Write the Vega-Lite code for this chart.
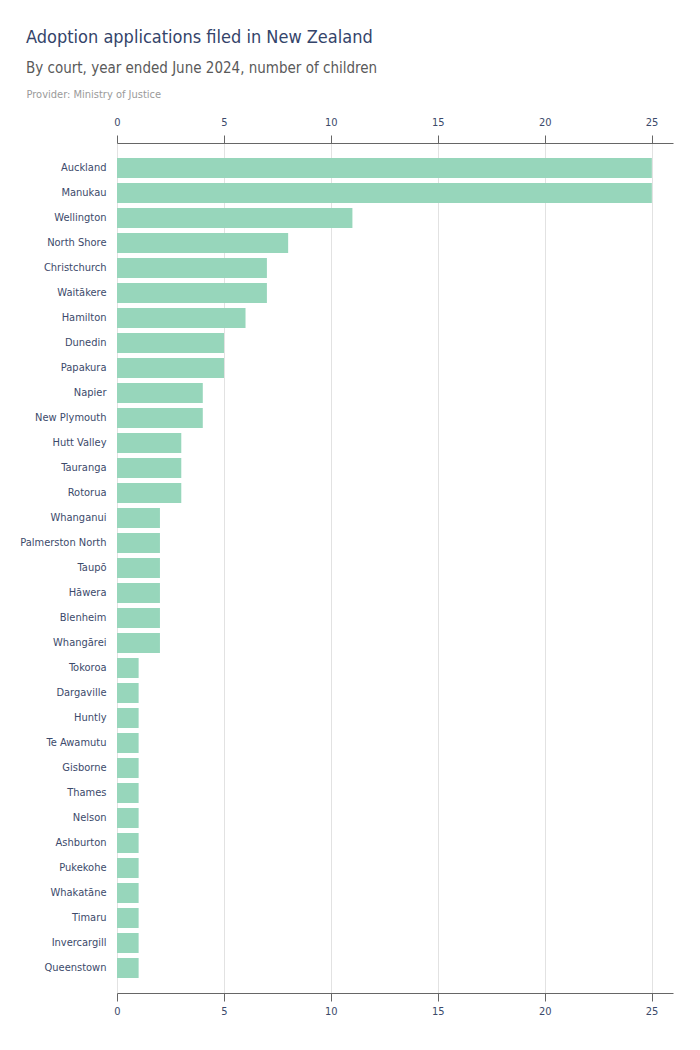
{
  "$schema": "https://vega.github.io/schema/vega-lite/v6.json",
  "width": 556,
  "height": 850,
  "autosize": {"type": "none"},
  "padding": {"left": 117, "top": 143, "right": 27, "bottom": 57},
  "background": "white",
  "title": {
    "text": "Adoption applications filed in New Zealand",
    "subtitle": "By court, year ended June 2024, number of children",
    "anchor": "start",
    "frame": "group",
    "dx": -91,
    "offset": 12,
    "font": "DejaVu Sans Condensed, Roboto, sans-serif",
    "fontSize": 18,
    "fontWeight": 500,
    "color": "#34446a",
    "subtitleFont": "DejaVu Sans Condensed, Roboto, sans-serif",
    "subtitleFontSize": 15,
    "subtitleColor": "#5a5a5a",
    "subtitlePadding": 14
  },
  "data": {
    "values": [
      {"court": "Auckland", "children": 25},
      {"court": "Manukau", "children": 25},
      {"court": "Wellington", "children": 11},
      {"court": "North Shore", "children": 8},
      {"court": "Christchurch", "children": 7},
      {"court": "Waitākere", "children": 7},
      {"court": "Hamilton", "children": 6},
      {"court": "Dunedin", "children": 5},
      {"court": "Papakura", "children": 5},
      {"court": "Napier", "children": 4},
      {"court": "New Plymouth", "children": 4},
      {"court": "Hutt Valley", "children": 3},
      {"court": "Tauranga", "children": 3},
      {"court": "Rotorua", "children": 3},
      {"court": "Whanganui", "children": 2},
      {"court": "Palmerston North", "children": 2},
      {"court": "Taupō", "children": 2},
      {"court": "Hāwera", "children": 2},
      {"court": "Blenheim", "children": 2},
      {"court": "Whangārei", "children": 2},
      {"court": "Tokoroa", "children": 1},
      {"court": "Dargaville", "children": 1},
      {"court": "Huntly", "children": 1},
      {"court": "Te Awamutu", "children": 1},
      {"court": "Gisborne", "children": 1},
      {"court": "Thames", "children": 1},
      {"court": "Nelson", "children": 1},
      {"court": "Ashburton", "children": 1},
      {"court": "Pukekohe", "children": 1},
      {"court": "Whakatāne", "children": 1},
      {"court": "Timaru", "children": 1},
      {"court": "Invercargill", "children": 1},
      {"court": "Queenstown", "children": 1}
    ]
  },
  "encoding": {
    "y": {
      "field": "court",
      "type": "nominal",
      "sort": null,
      "scale": {"paddingInner": 0.2, "paddingOuter": 0.6},
      "axis": {
        "title": null,
        "domain": false,
        "ticks": false,
        "labelPadding": 11,
        "labelFont": "DejaVu Sans Condensed, Roboto, sans-serif",
        "labelFontSize": 11,
        "labelColor": "#3c4a6b"
      }
    }
  },
  "layer": [
    {
      "mark": {"type": "bar", "color": "#97d6bb"},
      "encoding": {
        "x": {
          "field": "children",
          "type": "quantitative",
          "scale": {"domain": [0, 26], "nice": false},
          "axis": {
            "orient": "top",
            "values": [0, 5, 10, 15, 20, 25],
            "labelFlush": false,
            "grid": true,
            "gridColor": "#e2e2e2",
            "domainColor": "#666666",
            "tickColor": "#666666",
            "tickSize": 8,
            "labelPadding": 8,
            "labelFont": "DejaVu Sans Condensed, Roboto, sans-serif",
            "labelFontSize": 11,
            "labelColor": "#3c4a6b",
            "title": "Provider: Ministry of Justice",
            "titleFont": "DejaVu Sans Condensed, Roboto, sans-serif",
            "titleFontSize": 11,
            "titleFontWeight": "normal",
            "titleColor": "#9a9a9a",
            "titleAnchor": "start",
            "titleAlign": "left",
            "titleBaseline": "alphabetic",
            "titleX": -91,
            "titleY": -46
          }
        }
      }
    },
    {
      "mark": {"type": "bar", "color": "#97d6bb"},
      "encoding": {
        "x": {
          "field": "children",
          "type": "quantitative",
          "axis": {
            "orient": "bottom",
            "values": [0, 5, 10, 15, 20, 25],
            "labelFlush": false,
            "grid": false,
            "domainColor": "#666666",
            "tickColor": "#666666",
            "tickSize": 8,
            "labelPadding": 4,
            "labelFont": "DejaVu Sans Condensed, Roboto, sans-serif",
            "labelFontSize": 11,
            "labelColor": "#3c4a6b",
            "title": null
          }
        }
      }
    }
  ],
  "resolve": {"axis": {"x": "independent"}},
  "config": {"view": {"stroke": null}}
}
